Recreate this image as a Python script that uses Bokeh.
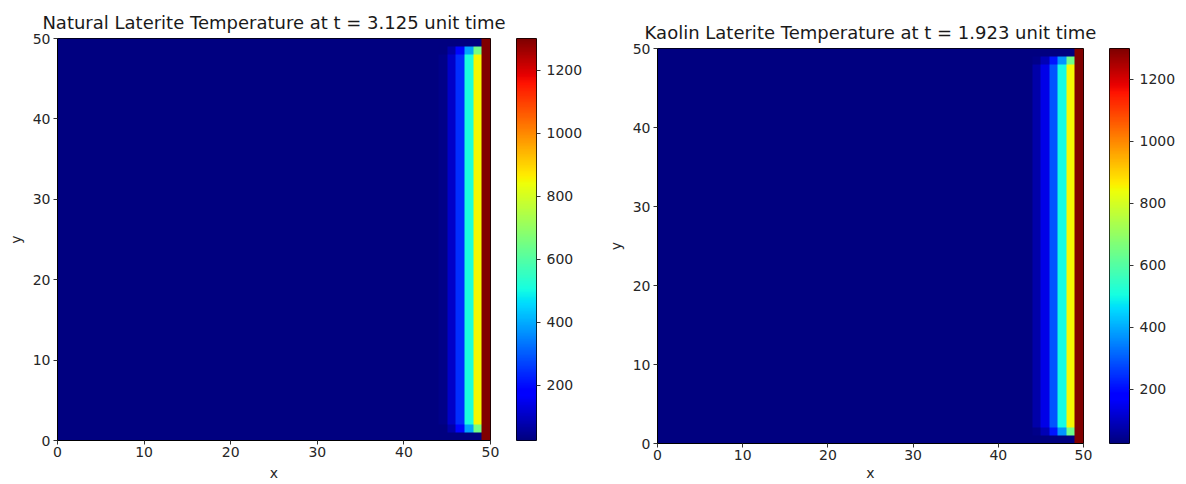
import numpy as np
from bokeh.plotting import figure
from bokeh.layouts import row
from bokeh.models import LinearColorMapper, FixedTicker, Range1d
from bokeh.embed import file_html
from bokeh.resources import INLINE

# ---- data ----
nat_title = "Natural Laterite Temperature at t = 3.125 unit time"
kao_title = "Kaolin Laterite Temperature at t = 1.923 unit time"
axis_ticks = [0, 10, 20, 30, 40, 50]
cbar_ticks = [200, 400, 600, 800, 1000, 1200]
t_low = 25
t_high = 1300
n_cells = 50
ambient = 25
hot_cols = [44, 45, 46, 47, 48, 49]
nat_interior = [35, 105, 240, 510, 850, 1300]
nat_edge = [28, 70, 190, 390, 650, 1300]
kao_interior = [70, 140, 290, 500, 850, 1300]
kao_edge = [35, 85, 210, 370, 640, 1300]

# jet colormap (matplotlib segment definition)
_s = np.linspace(0, 1, 256)
_r = np.interp(_s, [0, 0.35, 0.66, 0.89, 1], [0, 0, 1, 1, 0.5])
_g = np.interp(_s, [0, 0.125, 0.375, 0.64, 0.91, 1], [0, 0, 1, 1, 0, 0])
_b = np.interp(_s, [0, 0.11, 0.34, 0.65, 1], [0.5, 1, 1, 0, 0])
jet = ["#%02x%02x%02x" % (int(round(r * 255)), int(round(g * 255)), int(round(b * 255)))
       for r, g, b in zip(_r, _g, _b)]


def build_grid(interior, edge):
    g = np.full((n_cells, n_cells), float(ambient))
    for i, c in enumerate(hot_cols):
        g[1:n_cells - 1, c] = interior[i]
        g[1, c] = edge[i]
        g[n_cells - 2, c] = edge[i]
    g[:, hot_cols[-1]] = interior[-1]
    return g


FONT = "DejaVu Sans"
H = 484
TXT = "#262626"


def style_axis(ax):
    ax.major_label_text_font = FONT
    ax.major_label_text_font_size = "14px"
    ax.major_label_text_color = TXT
    ax.axis_label_text_font = FONT
    ax.axis_label_text_font_size = "14px"
    ax.axis_label_text_font_style = "normal"
    ax.axis_label_text_color = TXT
    ax.minor_tick_line_color = None
    ax.major_tick_in = 0
    ax.major_tick_out = 4
    ax.major_tick_line_color = "#333333"
    ax.axis_line_color = "black"
    ax.major_label_standoff = 3


def make_plot(title, grid, left, frame_w, frame_top, frame_bottom, xlab_standoff):
    right = 21
    mapper = LinearColorMapper(palette=jet, low=t_low, high=t_high)
    p = figure(width=left + frame_w + right, height=H, output_backend="svg",
               toolbar_location=None, title=title,
               x_range=Range1d(0, n_cells), y_range=Range1d(0, n_cells),
               min_border_left=left, min_border_right=right,
               min_border_top=frame_top, min_border_bottom=H - frame_bottom)
    p.image(image=[grid], x=0, y=0, dw=n_cells, dh=n_cells, color_mapper=mapper)
    p.title.text_font = FONT
    p.title.text_font_size = "18px"
    p.title.text_font_style = "normal"
    p.title.text_color = "#1a1a1a"
    p.title.align = "center"
    p.title.standoff = 11
    p.grid.visible = False
    p.outline_line_color = "black"
    p.outline_line_width = 1
    p.border_fill_color = "white"
    for ax in (p.xaxis[0], p.yaxis[0]):
        ax.ticker = FixedTicker(ticks=axis_ticks)
        style_axis(ax)
    p.yaxis.axis_label = "y"
    p.yaxis.axis_label_standoff = 6
    p.xaxis.axis_label = "x"
    p.xaxis.major_label_standoff = 2
    p.xaxis.axis_label_standoff = xlab_standoff
    return p, mapper


def make_cbar(mapper, left, frame_top, frame_bottom, right):
    bar_w = 20
    c = figure(width=left + bar_w + right, height=H, output_backend="svg",
               toolbar_location=None, x_axis_location=None, y_axis_location="right",
               x_range=Range1d(0, 1), y_range=Range1d(t_low, t_high),
               min_border_left=left, min_border_right=right,
               min_border_top=frame_top, min_border_bottom=H - frame_bottom)
    grad = np.linspace(t_low, t_high, 256).reshape(256, 1)
    c.image(image=[grad], x=0, y=t_low, dw=1, dh=t_high - t_low, color_mapper=mapper)
    c.grid.visible = False
    c.outline_line_color = "black"
    c.border_fill_color = "white"
    c.yaxis.ticker = FixedTicker(ticks=cbar_ticks)
    style_axis(c.yaxis[0])
    c.yaxis.major_label_standoff = 6
    c.yaxis.axis_line_color = None
    return c


p1, m1 = make_plot(nat_title, build_grid(nat_interior, nat_edge), 57, 433, 38, 440, 5)
c1 = make_cbar(m1, 5, 38, 440, 64)
p2, m2 = make_plot(kao_title, build_grid(kao_interior, kao_edge), 57, 426, 48, 443, 2)
c2 = make_cbar(m2, 5, 48, 443, 55)

layout = row(row(p1, c1, spacing=0), row(p2, c2, spacing=0), spacing=0)
open("out.html", "w").write(file_html(layout, INLINE))
